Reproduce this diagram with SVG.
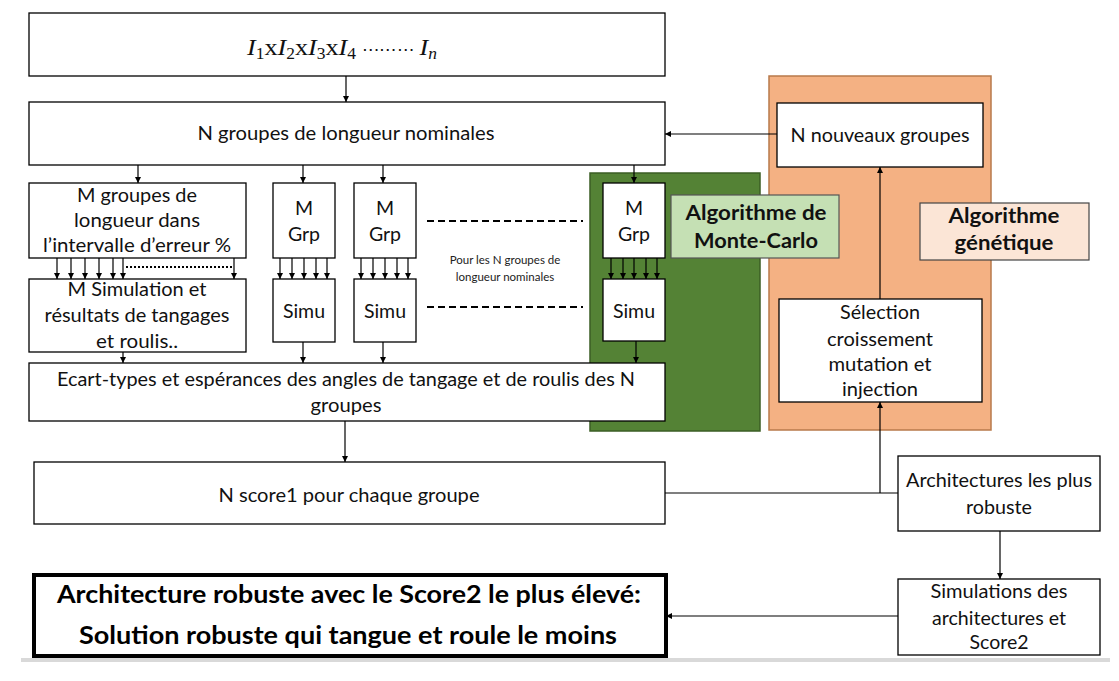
<svg xmlns="http://www.w3.org/2000/svg" width="1119" height="681" viewBox="0 0 1119 681">
<defs>
<marker id="ah" markerUnits="userSpaceOnUse" markerWidth="7" markerHeight="7" refX="6" refY="3" orient="auto">
<path d="M0,0 L6,3 L0,6 z" fill="#000"/>
</marker>
<style>
.box{fill:#fff;stroke:#000;stroke-width:1.3}
.t{font-family:Lato,"Liberation Sans",sans-serif;font-size:19.5px;fill:#111;text-anchor:middle}
.tc{font-family:Lato,"Liberation Sans",sans-serif;font-size:20px;fill:#111;text-anchor:middle}
.s{font-family:Lato,"Liberation Sans",sans-serif;font-size:11.5px;fill:#222;text-anchor:middle}
.b{font-family:Lato,"Liberation Sans",sans-serif;font-size:20px;font-weight:bold;fill:#111;text-anchor:middle}
.fb{font-family:Lato,"Liberation Sans",sans-serif;font-size:25px;font-weight:bold;fill:#000;text-anchor:middle}
.m{font-family:"Liberation Serif","DejaVu Serif",serif;font-size:24px;fill:#111;text-anchor:middle}
.c{stroke:#000;stroke-width:1.2;fill:none}
.a{stroke:#000;stroke-width:1.2;fill:none;marker-end:url(#ah)}
</style>
</defs>
<rect width="1119" height="681" fill="#fff"/>
<rect x="21" y="658" width="1089" height="4" fill="#d9d9d9"/>

<g id="bg-montecarlo"><rect x="590" y="173" width="170" height="258" fill="#548235" stroke="#3b5e25" stroke-width="1.5"/></g>
<g id="bg-genetique"><rect x="769" y="76" width="222" height="354" fill="#f4b183" stroke="#b87a4b" stroke-width="1.5"/></g>

<g id="n-top"><rect class="box" x="29" y="13" width="636" height="63"/>
<text class="m" x="342" y="55" textLength="190" lengthAdjust="spacingAndGlyphs"><tspan font-style="italic">I</tspan><tspan font-size="16" dy="4">1</tspan><tspan dy="-4">x</tspan><tspan font-style="italic">I</tspan><tspan font-size="16" dy="4">2</tspan><tspan dy="-4">x</tspan><tspan font-style="italic">I</tspan><tspan font-size="16" dy="4">3</tspan><tspan dy="-4">x</tspan><tspan font-style="italic">I</tspan><tspan font-size="16" dy="4">4</tspan><tspan dy="-4" font-family="DejaVu Serif" font-size="16"> ⋯⋯⋯ </tspan><tspan font-style="italic">I</tspan><tspan font-size="16" font-style="italic" dy="4">n</tspan></text></g>

<g id="n-groupes"><rect class="box" x="29" y="102" width="636" height="63"/>
<text class="t" x="346" y="140" textLength="297" lengthAdjust="spacingAndGlyphs">N groupes de longueur nominales</text></g>

<g id="n-mgroupes"><rect class="box" x="29" y="183" width="217" height="75"/>
<text class="t" x="137" y="202" textLength="120" lengthAdjust="spacingAndGlyphs">M groupes de</text>
<text class="t" x="137" y="227" textLength="126" lengthAdjust="spacingAndGlyphs">longueur dans</text>
<text class="t" x="137" y="252" textLength="188" lengthAdjust="spacingAndGlyphs">l’intervalle d’erreur %</text></g>

<g id="n-msim"><rect class="box" x="29" y="279" width="217" height="73"/>
<text class="t" x="137" y="296" textLength="139" lengthAdjust="spacingAndGlyphs">M Simulation et</text>
<text class="t" x="137" y="322" textLength="185" lengthAdjust="spacingAndGlyphs">résultats de tangages</text>
<text class="t" x="137" y="348" textLength="82" lengthAdjust="spacingAndGlyphs">et roulis..</text></g>

<g id="n-grp1"><rect class="box" x="273" y="183" width="62" height="75"/>
<text class="t" x="304" y="215">M</text><text class="t" x="304" y="241">Grp</text></g>
<g id="n-simu1"><rect class="box" x="273" y="279" width="62" height="63"/>
<text class="t" x="304" y="318">Simu</text></g>

<g id="n-grp2"><rect class="box" x="354" y="183" width="62" height="75"/>
<text class="t" x="385" y="215">M</text><text class="t" x="385" y="241">Grp</text></g>
<g id="n-simu2"><rect class="box" x="354" y="279" width="62" height="63"/>
<text class="t" x="385" y="318">Simu</text></g>

<g id="n-grp3"><rect class="box" x="603" y="183" width="62" height="75"/>
<text class="t" x="634" y="215">M</text><text class="t" x="634" y="241">Grp</text></g>
<g id="n-simu3"><rect class="box" x="603" y="279" width="62" height="62"/>
<text class="t" x="634" y="318">Simu</text></g>

<g id="n-note">
<text class="s" x="505" y="264">Pour les N groupes de</text>
<text class="s" x="505" y="281">longueur nominales</text></g>

<g id="n-ecart"><rect class="box" x="29" y="363" width="636" height="58"/>
<text class="t" x="346" y="386" textLength="578" lengthAdjust="spacingAndGlyphs">Ecart-types et espérances des angles de tangage et de roulis des N</text>
<text class="t" x="346" y="412" textLength="71" lengthAdjust="spacingAndGlyphs">groupes</text></g>

<g id="label-montecarlo"><rect x="671" y="195" width="168" height="63" fill="#c5e0b4" stroke="#555" stroke-width="1.2"/>
<text class="b" x="756" y="220" textLength="141" lengthAdjust="spacingAndGlyphs">Algorithme de</text>
<text class="b" x="756" y="248" textLength="124" lengthAdjust="spacingAndGlyphs">Monte-Carlo</text></g>

<g id="n-nouveaux"><rect class="box" x="777" y="103" width="206" height="64"/>
<text class="t" x="880" y="142" textLength="179" lengthAdjust="spacingAndGlyphs">N nouveaux groupes</text></g>

<g id="label-genetique"><rect x="920" y="203" width="169" height="57" fill="#fbe5d6" stroke="#444" stroke-width="1.2"/>
<text class="b" x="1004" y="223" textLength="111" lengthAdjust="spacingAndGlyphs">Algorithme</text>
<text class="b" x="1004" y="250" textLength="99" lengthAdjust="spacingAndGlyphs">génétique</text></g>

<g id="n-selection"><rect class="box" x="779" y="299" width="203" height="103"/>
<text class="t" x="880" y="319" textLength="80" lengthAdjust="spacingAndGlyphs">Sélection</text>
<text class="t" x="880" y="346" textLength="106" lengthAdjust="spacingAndGlyphs">croissement</text>
<text class="t" x="880" y="371" textLength="103" lengthAdjust="spacingAndGlyphs">mutation et</text>
<text class="t" x="880" y="396" textLength="76" lengthAdjust="spacingAndGlyphs">injection</text></g>

<g id="n-score1"><rect class="box" x="34" y="462" width="631" height="62"/>
<text class="tc" x="349" y="502" textLength="261" lengthAdjust="spacingAndGlyphs">N score1 pour chaque groupe</text></g>

<g id="n-archi"><rect class="box" x="898" y="456" width="202" height="75"/>
<text class="tc" x="999" y="487" textLength="186" lengthAdjust="spacingAndGlyphs">Architectures les plus</text>
<text class="tc" x="999" y="514" textLength="66" lengthAdjust="spacingAndGlyphs">robuste</text></g>

<g id="n-simulations"><rect class="box" x="898" y="579" width="202" height="76"/>
<text class="tc" x="999" y="598" textLength="137" lengthAdjust="spacingAndGlyphs">Simulations des</text>
<text class="tc" x="999" y="625" textLength="134" lengthAdjust="spacingAndGlyphs">architectures et</text>
<text class="tc" x="999" y="649" textLength="59" lengthAdjust="spacingAndGlyphs">Score2</text></g>

<g id="n-final"><rect x="34" y="575" width="632" height="81" fill="#fff" stroke="#000" stroke-width="4"/>
<text class="fb" x="349" y="603" textLength="584" lengthAdjust="spacingAndGlyphs">Architecture robuste avec le Score2 le plus élevé:</text>
<text class="fb" x="348" y="644" textLength="538" lengthAdjust="spacingAndGlyphs">Solution robuste qui tangue et roule le moins</text></g>

<g id="connectors">
<line class="a" x1="346" y1="76" x2="346" y2="102"/>
<line class="a" x1="777" y1="134" x2="665" y2="134"/>
<line class="a" x1="138" y1="165" x2="138" y2="183"/>
<line class="a" x1="303" y1="165" x2="303" y2="183"/>
<line class="a" x1="383" y1="165" x2="383" y2="183"/>
<line class="a" x1="634" y1="165" x2="634" y2="183"/>
<line class="a" x1="57" y1="258" x2="57" y2="279"/>
<line class="a" x1="71" y1="258" x2="71" y2="279"/>
<line class="a" x1="85" y1="258" x2="85" y2="279"/>
<line class="a" x1="99" y1="258" x2="99" y2="279"/>
<line class="a" x1="113" y1="258" x2="113" y2="279"/>
<line class="a" x1="123" y1="258" x2="123" y2="279"/>
<line class="a" x1="234" y1="258" x2="234" y2="279"/>
<line x1="126" y1="267" x2="232" y2="267" stroke="#000" stroke-width="2" stroke-dasharray="2 2"/>
<line class="a" x1="280" y1="258" x2="280" y2="279"/>
<line class="a" x1="292" y1="258" x2="292" y2="279"/>
<line class="a" x1="304" y1="258" x2="304" y2="279"/>
<line class="a" x1="316" y1="258" x2="316" y2="279"/>
<line class="a" x1="327" y1="258" x2="327" y2="279"/>
<line class="a" x1="361" y1="258" x2="361" y2="279"/>
<line class="a" x1="373" y1="258" x2="373" y2="279"/>
<line class="a" x1="385" y1="258" x2="385" y2="279"/>
<line class="a" x1="397" y1="258" x2="397" y2="279"/>
<line class="a" x1="408" y1="258" x2="408" y2="279"/>
<line class="a" x1="611" y1="258" x2="611" y2="279"/>
<line class="a" x1="623" y1="258" x2="623" y2="279"/>
<line class="a" x1="634" y1="258" x2="634" y2="279"/>
<line class="a" x1="646" y1="258" x2="646" y2="279"/>
<line class="a" x1="657" y1="258" x2="657" y2="279"/>
<line x1="427" y1="221" x2="583" y2="221" stroke="#000" stroke-width="2" stroke-dasharray="7 4"/>
<line x1="427" y1="307" x2="583" y2="307" stroke="#000" stroke-width="2" stroke-dasharray="7 4"/>
<line class="a" x1="123" y1="352" x2="123" y2="363"/>
<line class="a" x1="303" y1="342" x2="303" y2="363"/>
<line class="a" x1="383" y1="342" x2="383" y2="363"/>
<line class="a" x1="636" y1="341" x2="636" y2="363"/>
<line class="a" x1="345" y1="421" x2="345" y2="462"/>
<line class="a" x1="880" y1="299" x2="880" y2="167"/>
<line class="c" x1="665" y1="493" x2="898" y2="493"/>
<line class="a" x1="880" y1="493" x2="880" y2="402"/>
<line class="a" x1="1000" y1="531" x2="1000" y2="579"/>
<line class="a" x1="898" y1="616" x2="666" y2="616"/>
</g>
</svg>
